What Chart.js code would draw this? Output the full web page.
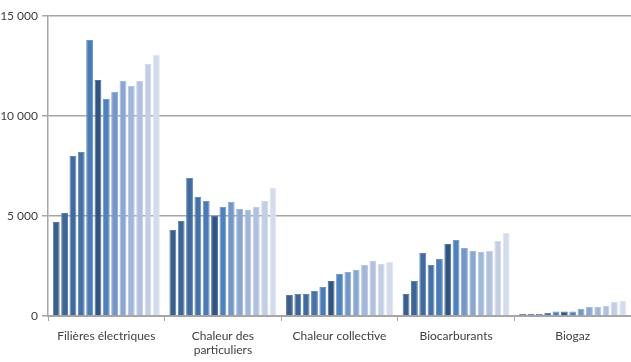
<!DOCTYPE html>
<html>
<head>
<meta charset="utf-8">
<script src="https://cdn.jsdelivr.net/npm/chart.js@4/dist/chart.umd.min.js"></script>
<style>
  html, body { margin: 0; padding: 0; background: #ffffff; }
  #wrap { width: 631px; height: 362px; position: relative; }
</style>
</head>
<body>
<div id="wrap"><canvas id="c"></canvas></div>
<script>
// Filières (x-axis categories)
const categories = [
  'Filières électriques',
  ['Chaleur des', 'particuliers'],
  'Chaleur collective',
  'Biocarburants',
  'Biogaz'
];

// Years shown as successive bars within each filière
const years = ['2006','2007','2008','2009','2010','2011','2012','2013','2014','2015','2016','2017','2018'];

// Values per filière, one entry per year
const filieresElectriques = [4700, 5150, 8000, 8200, 13800, 11800, 10850, 11200, 11750, 11500, 11750, 12600, 13050];
const chaleurParticuliers = [4300, 4750, 6900, 5950, 5750, 5000, 5450, 5700, 5350, 5300, 5450, 5750, 6400];
const chaleurCollective   = [1050, 1100, 1100, 1250, 1450, 1750, 2100, 2200, 2300, 2550, 2750, 2600, 2700];
const biocarburants       = [1100, 1750, 3150, 2550, 2850, 3600, 3800, 3400, 3250, 3200, 3250, 3750, 4150];
const biogaz              = [100, 100, 100, 150, 220, 220, 220, 350, 450, 450, 500, 700, 770];

// Y-axis tick labels
const yTicks = [0, 5000, 10000, 15000];
const yTickLabels = ['0', '5 000', '10 000', '15 000'];

// Bar fill per year, with a slightly lighter edge
const barColors = ['#3a5f8b', '#3d6595', '#416b9f', '#4571a7', '#4a7bb7', '#2f5480', '#4f81bd',
                   '#7597c8', '#8ba7d1', '#a2b6d8', '#b0c0de', '#c3cee5', '#d3dbec'];
const edgeColors = ['#5b7aa1', '#5e80a8', '#6385b0', '#678bb7', '#6b93c4', '#52719a', '#7199c9',
                    '#90acd4', '#a3b9db', '#b6c6e0', '#c3cfe5', '#d2dbeb', '#e0e6f2'];

const byCategory = [filieresElectriques, chaleurParticuliers, chaleurCollective, biocarburants, biogaz];

const datasets = years.map((y, i) => ({
  label: y,
  data: byCategory.map(arr => arr[i]),
  backgroundColor: barColors[i],
  borderColor: edgeColors[i],
  borderWidth: 1,
  barPercentage: 0.82,
  categoryPercentage: 0.93
}));

const axisGray = '#a6a6a6';
const textColor = '#404040';
const font = { family: 'Lato', size: 12 };

new Chart(document.getElementById('c'), {
  type: 'bar',
  data: { labels: categories, datasets },
  options: {
    responsive: true,
    maintainAspectRatio: false,
    animation: false,
    layout: { padding: { top: 16, right: 0, left: 0, bottom: 0 } },
    plugins: { legend: { display: false }, tooltip: { enabled: false } },
    scales: {
      x: {
        offset: true,
        grid: {
          offset: true,
          drawOnChartArea: false,
          drawTicks: true,
          tickLength: 5,
          color: axisGray,
          lineWidth: 1
        },
        border: { color: axisGray, width: 2 },
        ticks: { color: textColor, font, padding: 8, maxRotation: 0, autoSkip: false },
        afterFit: s => { s.height = 46; }
      },
      y: {
        min: 0,
        max: 15000,
        afterBuildTicks: s => { s.ticks = yTicks.map(v => ({ value: v })); },
        grid: {
          color: ctx => ctx.tick && ctx.tick.value === 0 ? 'rgba(0,0,0,0)' : axisGray,
          lineWidth: 1.5,
          tickLength: 6,
          tickColor: axisGray,
          drawTicks: true
        },
        border: { color: axisGray, width: 1.5 },
        ticks: {
          color: textColor,
          font,
          padding: 4,
          callback: (v) => yTickLabels[yTicks.indexOf(v)]
        },
        afterFit: s => { s.width = 48; }
      }
    }
  }
});
</script>
</body>
</html>
